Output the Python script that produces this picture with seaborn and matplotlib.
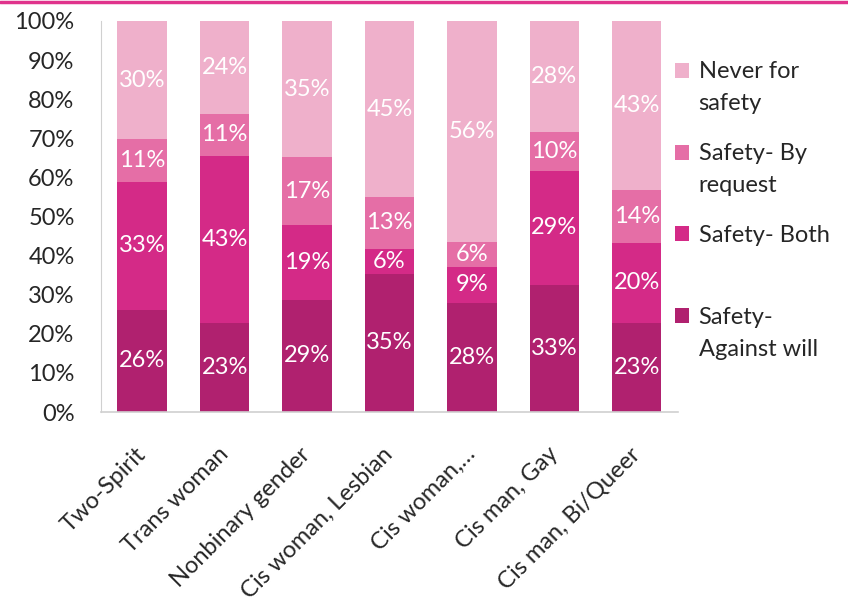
import pandas as pd
import numpy as np
import matplotlib
matplotlib.use("Agg")
import matplotlib.pyplot as plt
from matplotlib.lines import Line2D
from matplotlib.patches import Patch, Rectangle
import seaborn as sns

# données (en %)
groupes = ["Two-Spirit", "Trans woman", "Nonbinary gender", "Cis woman, Lesbian",
           "Cis woman,\u2026", "Cis man, Gay", "Cis man, Bi/Queer"]
contre_volonte = [26.2, 22.8, 28.7, 35.4, 27.9, 32.6, 22.8]
les_deux = [32.6, 42.8, 19.2, 6.4, 9.3, 29.0, 20.5]
sur_demande = [10.9, 10.6, 17.2, 13.1, 6.4, 10.0, 13.6]
jamais = [30.3, 23.8, 34.9, 45.1, 56.4, 28.4, 43.1]

series = ["Safety-\nAgainst will", "Safety- Both", "Safety- By\nrequest", "Never for\nsafety"]
couleurs = ["#B0216F", "#D42A87", "#E56EA6", "#EFB0CB"]

df = pd.DataFrame({"groupe": groupes,
                   series[0]: contre_volonte,
                   series[1]: les_deux,
                   series[2]: sur_demande,
                   series[3]: jamais})
cumul = df[series].cumsum(axis=1)

sns.set_style("white")
plt.rcParams["font.family"] = ["Lato", "DejaVu Sans"]
TAILLE = 17

fig = plt.figure(figsize=(8.48, 6.05), dpi=100)
ax = fig.add_axes([0.1191, 0.3190, 0.6804, 0.6463])

# barres empilées : on dessine du total cumulé le plus haut vers le plus bas
for i in range(len(series) - 1, -1, -1):
    sns.barplot(x=df["groupe"], y=cumul[series[i]], color=couleurs[i],
                width=0.6, saturation=1, ax=ax, edgecolor="none")

# étiquettes de données
for j in range(len(groupes)):
    bas = 0
    for i, s in enumerate(series):
        v = df[s][j]
        ax.text(j, bas + v / 2, f"{round(v)}%", ha="center", va="center",
                color="white", fontsize=TAILLE)
        bas += v

ax.set_ylim(0, 100)
ax.set_xlim(-0.5, len(groupes) - 0.5)
ax.set_yticks(np.arange(0, 101, 10))
ax.set_yticklabels([f"{t}%" for t in range(0, 101, 10)], fontsize=TAILLE)
ax.set_xlabel("")
ax.set_ylabel("")
ax.set_xticks(range(len(groupes)))
ax.set_xticklabels(groupes, rotation=45, ha="right", va="center",
                   rotation_mode="anchor", fontsize=TAILLE)
ax.tick_params(axis="x", length=0, pad=28)
ax.tick_params(axis="y", length=0, pad=19)
ax.set_xticks(np.arange(-0.5, len(groupes), 1), minor=True)
ax.tick_params(axis="x", which="minor", length=6, color="#D0D0D0", width=1.2)

for cote in ["top", "right"]:
    ax.spines[cote].set_visible(False)
ax.spines["left"].set_color("#D0D0D0")
ax.spines["bottom"].set_color("#D0D0D0")
ax.spines["bottom"].set_linewidth(1.2)


# carré de légende aligné sur la première ligne du libellé
class CarreHaut:
    def legend_artist(self, legend, orig_handle, fontsize, handlebox):
        x0, y0 = handlebox.xdescent, handlebox.ydescent
        w, h = handlebox.width, handlebox.height
        carre = Rectangle((-x0, -y0 + 0.74 * fontsize), w, h,
                          facecolor=orig_handle.get_facecolor(), edgecolor="none",
                          transform=handlebox.get_transform())
        handlebox.add_artist(carre)
        return carre


ordre = list(range(len(series) - 1, -1, -1))
poignees = [Patch(facecolor=couleurs[i], edgecolor="none") for i in ordre]
etiquettes = [series[i] if "\n" in series[i] else series[i] + "\n " for i in ordre]
leg = fig.legend(poignees, etiquettes, loc="upper left",
                 bbox_to_anchor=(675 / 848, 1 - 61 / 605), bbox_transform=fig.transFigure,
                 frameon=False, fontsize=TAILLE, handlelength=0.6, handleheight=0.6,
                 handletextpad=0.4, labelspacing=1.22, borderaxespad=0, borderpad=0,
                 handler_map={Patch: CarreHaut()})
for t in leg.get_texts():
    t.set_linespacing(1.65)

# ligne rose en haut
fig.add_artist(Line2D([0, 1], [0.996, 0.996], color="#E0338C", linewidth=2.5,
                      transform=fig.transFigure))

fig.savefig("out.png", dpi=100)
